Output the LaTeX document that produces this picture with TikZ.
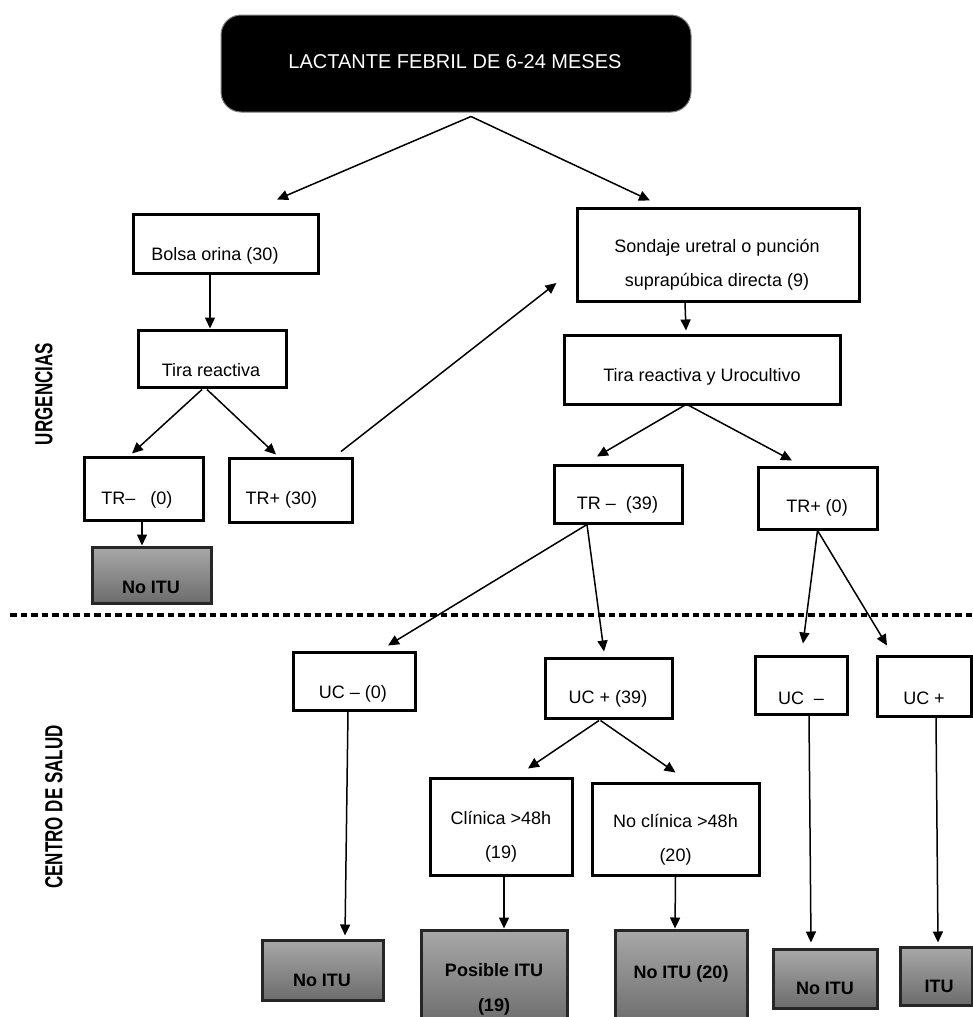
\documentclass[tikz,border=0pt]{standalone}
\usepackage{fontspec}
\setmainfont{Liberation Sans}
\usetikzlibrary{arrows.meta,calc}
\definecolor{gtop}{RGB}{168,168,168}
\definecolor{gbot}{RGB}{108,108,108}
\tikzset{
  wbox/.style={draw=black, line width=3pt, fill=white, inner sep=0pt},
  gbox/.style={draw=black!85, line width=3pt, top color=gtop, bottom color=gbot, inner sep=0pt},
  txt/.style={inner sep=0pt, font=\fontsize{18}{34}\selectfont, align=center},
  btxt/.style={inner sep=0pt, font=\bfseries\fontsize{18}{35}\selectfont, align=center},
  arr/.style={line width=1.5pt, -{Triangle[length=11pt,width=10pt]}},
  side/.style={inner sep=0pt, rotate=90, font=\bfseries\fontsize{17}{17}\selectfont},
  sep/.style={line width=3.5pt, dash pattern=on 6.5pt off 4pt},
}
\begin{document}
\begin{tikzpicture}[x=1pt,y=-1pt]
\useasboundingbox (0,0) rectangle (973,1017);
\clip (0,0) rectangle (973,1017);
\fill[white] (0,0) rectangle (973,1017);

% top box
\node[draw=gray, fill=black, rounded corners=20pt, line width=1pt, minimum width=470pt, minimum height=97pt, inner sep=0pt] (top) at (456,63.5) {};
\node[txt, text=white, font=\fontsize{20}{24}\selectfont] (topT) at (455,62) {LACTANTE FEBRIL DE 6-24 MESES};

% side labels
\node[side] (urg) at (44,394) {\scalebox{1}[1.45]{URGENCIAS}};
\node[side] (cs) at (54,807) {\scalebox{1}[1.45]{CENTRO DE SALUD}};

% separator
\coordinate (sepL) at (10,615);
\coordinate (sepR) at (973,615);
\draw[sep] (sepL) -- (sepR);

% left branch
\node[wbox, minimum width=185pt, minimum height=59pt] (bolsa) at (225.5,243.5) {};
\node[txt] (bolsaT) at (215,256) {Bolsa orina (30)};
\node[wbox, minimum width=148pt, minimum height=57pt] (tira) at (212,358.5) {};
\node[txt] (tiraT) at (211,370) {Tira reactiva};
\node[wbox, minimum width=119pt, minimum height=63pt] (trm) at (143.5,488.5) {};
\node[txt] (trmT) at (137,500) {TR–\ \ \ (0)};
\node[wbox, minimum width=123pt, minimum height=64pt] (trp30) at (290.5,490) {};
\node[txt] (trp30T) at (281.5,500) {TR+ (30)};
\node[gbox, minimum width=119pt, minimum height=56pt] (noitu1) at (151.5,575) {};
\node[btxt] (noitu1T) at (151,587) {No ITU};

% right branch
\node[wbox, minimum width=282pt, minimum height=93pt] (sond) at (718,254.5) {};
\node[txt] (sondT) at (717,265) {Sondaje uretral o punción\\suprapúbica directa (9)};
\node[wbox, minimum width=276pt, minimum height=69pt] (tirauro) at (702,369.5) {};
\node[txt] (tirauroT) at (702,377) {Tira reactiva y Urocultivo};
\node[wbox, minimum width=128pt, minimum height=58pt] (trm39) at (618,494) {};
\node[txt] (trm39T) at (617.5,505) {TR –\ \ (39)};
\node[wbox, minimum width=119pt, minimum height=62pt] (trp0) at (817.5,498) {};
\node[txt] (trp0T) at (817,508) {TR+ (0)};

% centro de salud
\node[wbox, minimum width=122pt, minimum height=58pt] (ucm0) at (354,681) {};
\node[txt] (ucm0T) at (353,694) {UC – (0)};
\node[wbox, minimum width=127pt, minimum height=60pt] (ucp39) at (608.5,688) {};
\node[txt] (ucp39T) at (608,699) {UC + (39)};
\node[wbox, minimum width=92pt, minimum height=58pt] (ucm) at (801,685) {};
\node[txt] (ucmT) at (801,698) {UC\ \ –};
\node[wbox, minimum width=94pt, minimum height=60pt] (ucp) at (924,686) {};
\node[txt] (ucpT) at (924,698) {UC +};
\node[wbox, minimum width=142pt, minimum height=97pt] (clin) at (501,826.5) {};
\node[txt] (clinT) at (501,837) {Clínica >48h\\(19)};
\node[wbox, minimum width=167pt, minimum height=92pt] (noclin) at (675.5,829) {};
\node[txt] (noclinT) at (675.5,840) {No clínica >48h\\(20)};

\node[gbox, minimum width=121pt, minimum height=60pt] (noitu2) at (322.5,970) {};
\node[btxt] (noitu2T) at (322,980) {No ITU};
\node[gbox, minimum width=146pt, minimum height=95pt] (posible) at (494,977.5) {};
\node[btxt] (posibleT) at (494,989) {Posible ITU\\(19)};
\node[gbox, minimum width=132pt, minimum height=95pt] (noitu20) at (681,977.5) {};
\node[btxt] (noitu20T) at (681,974) {No ITU (20)};
\node[gbox, minimum width=104pt, minimum height=59pt] (noitu3) at (825,978.5) {};
\node[btxt] (noitu3T) at (825,988) {No ITU};
\node[gbox, minimum width=72pt, minimum height=58pt] (itu) at (936,976) {};
\node[btxt] (ituT) at (939,986) {ITU};

% connectors
\draw[arr] ($(top.south)+(15,4)$) -- ($(bolsa.north)+(51.5,-13)$);
\draw[arr] ($(top.south)+(15,4)$) -- ($(sond.north)+(-68,-6)$);
\draw[arr] ($(bolsa.south)+(-15.5,0)$) -- ($(tira.north)+(-2,0)$);
\draw[arr] ($(tira.south)+(-10,1)$) -- ($(trm.north)+(-11.5,-2)$);
\draw[arr] ($(tira.south)+(-5,1)$) -- ($(trp30.north)+(-14.5,-2)$);
\draw[arr] ($(trp30.north)+(50.5,-5)$) -- ($(sond.west)+(-19,28.5)$);
\draw[arr] ($(trm.south)+(-1.5,0)$) -- ($(noitu1.north)+(-9.5,0)$);
\draw[arr] ($(sond.south)+(-33,0)$) -- ($(tirauro.north)+(-16,-3)$);
\draw[arr] ($(tirauro.south)+(-16,-1)$) -- ($(trm39.north)+(-21,-7)$);
\draw[arr] ($(tirauro.south)+(-15,-1)$) -- ($(trp0.north)+(-25.5,-5)$);
\draw[arr] ($(trm39.south)+(-31,0)$) -- ($(ucm0.north)+(34,-5)$);
\draw[arr] ($(trm39.south)+(-31,0)$) -- ($(ucp39.north)+(-4.5,-5)$);
\draw[arr] ($(trp0.south)+(0,0)$) -- ($(ucm.north)+(2,-11)$);
\draw[arr] ($(trp0.south)+(0,0)$) -- ($(ucp.north)+(-37,-9)$);
\draw[arr] ($(ucm0.south)+(-6,0)$) -- ($(noitu2.north)+(22.5,-3)$);
\draw[arr] ($(ucp39.south)+(-9.5,1)$) -- ($(clin.north)+(27,-8)$);
\draw[arr] ($(ucp39.south)+(-8,1)$) -- ($(noclin.north)+(0,-9)$);
\draw[arr] ($(clin.south)+(3,0)$) -- ($(posible.north)+(10,0)$);
\draw[arr] ($(noclin.south)+(0,0)$) -- ($(noitu20.north)+(-6,0)$);
\draw[arr] ($(ucm.south)+(8,0)$) -- ($(noitu3.north)+(-14,-5)$);
\draw[arr] ($(ucp.south)+(12,0)$) -- ($(itu.north)+(2,-3)$);
\end{tikzpicture}
\end{document}
